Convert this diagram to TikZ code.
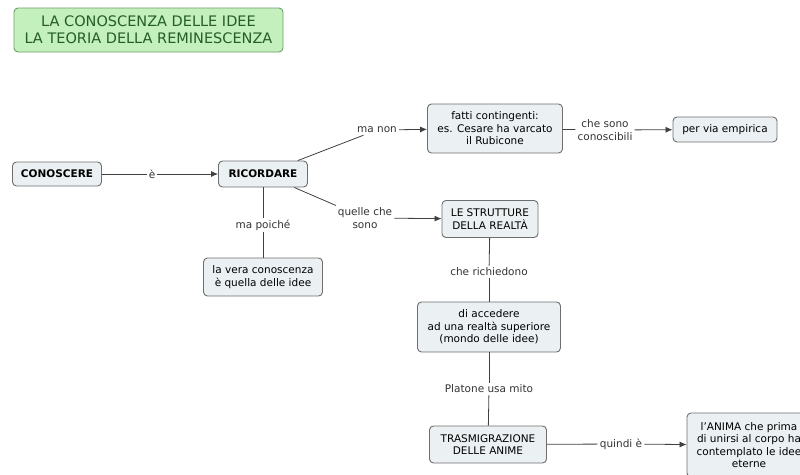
\documentclass[tikz,border=0pt]{standalone}
\usepackage{fontspec}
\setmainfont{DejaVu Sans}
\usetikzlibrary{arrows.meta}

\definecolor{boxfill}{HTML}{EBF0F3}
\definecolor{boxline}{HTML}{6E6E6E}
\definecolor{titlefill}{HTML}{C4F0BE}
\definecolor{titleline}{HTML}{6A9E6A}
\definecolor{titletext}{HTML}{245E24}

\tikzset{
  concept/.style={draw=boxline, fill=boxfill, rounded corners=4pt, line width=0.9pt,
    align=center, inner xsep=6pt, inner ysep=4pt, font=\fontsize{10.5}{12.5}\selectfont},
  bold/.style={concept, font=\fontsize{10.5}{12.5}\selectfont\bfseries},
  link/.style={align=center, inner sep=2pt, text=black!80, font=\fontsize{10.5}{12.5}\selectfont},
  conn/.style={draw=black!75, line width=0.8pt},
  arr/.style={conn, -{Latex[length=7pt,width=6pt]}}
}

\begin{document}
\begin{tikzpicture}[x=1pt,y=-1pt]
  \useasboundingbox (0,0) rectangle (800,474);
  \clip (0,0) rectangle (800,474);

  \node[draw=titleline, fill=titlefill, rounded corners=4pt, line width=0.9pt, text=titletext,
    align=center, minimum width=269pt, minimum height=44pt, inner ysep=4pt,
    font=\fontsize{14.5}{17}\selectfont]
    (title) at (148.5,30) {LA CONOSCENZA DELLE IDEE\\LA TEORIA DELLA REMINESCENZA};

  \node[bold, minimum width=89pt, minimum height=24pt] (conoscere) at (57,174) {CONOSCERE};
  \node[bold, minimum width=89pt, minimum height=26pt] (ricordare) at (263,174) {RICORDARE};
  \node[concept, minimum width=135pt, minimum height=49pt] (fatti) at (495,128.5)
    {fatti contingenti:\\es. Cesare ha varcato\\il Rubicone};
  \node[concept, minimum width=104pt, minimum height=25pt] (empirica) at (725,129.5) {per via empirica};
  \node[concept, minimum width=96pt, minimum height=37pt] (strutture) at (490,219)
    {LE STRUTTURE\\DELLA REALTÀ};
  \node[concept, minimum width=119pt, minimum height=38pt] (vera) at (263,277)
    {la vera conoscenza\\è quella delle idee};
  \node[concept, minimum width=143pt, minimum height=50pt] (accedere) at (489,327)
    {di accedere\\ad una realtà superiore\\(mondo delle idee)};
  \node[concept, minimum width=117pt, minimum height=37pt] (trasmig) at (488,444.5)
    {TRASMIGRAZIONE\\DELLE ANIME};
  \node[concept, minimum width=124pt, minimum height=64pt] (anima) at (749,445)
    {l'ANIMA che prima\\di unirsi al corpo ha\\contemplato le idee\\eterne};

  % link labels
  \node[link] (e) at (152,174) {è};
  \node[link] (manon) at (377,130) {ma non};
  \node[link] (chesono) at (605,130) {che sono\\conoscibili};
  \node[link] (quelle) at (365,218) {quelle che\\sono};
  \node[link] (poiche) at (263,225) {ma poiché};
  \node[link] (richiedono) at (489,272) {che richiedono};
  \node[link] (platone) at (489,389) {Platone usa mito};
  \node[link] (quindi) at (621,444) {quindi è};

  \draw[conn] (conoscere) -- (e);
  \draw[arr] (e) -- (ricordare);
  \draw[conn] (ricordare) -- (manon);
  \draw[arr] (manon) -- (fatti);
  \draw[conn] (fatti) -- (chesono);
  \draw[arr] (chesono) -- (empirica);
  \draw[conn] (ricordare) -- (quelle);
  \draw[arr] (quelle) -- (strutture);
  \draw[conn] (ricordare) -- (poiche);
  \draw[conn] (poiche) -- (vera);
  \draw[conn] (strutture) -- (richiedono);
  \draw[conn] (richiedono) -- (accedere);
  \draw[conn] (accedere) -- (platone);
  \draw[conn] (platone) -- (trasmig);
  \draw[conn] (trasmig) -- (quindi);
  \draw[arr] (quindi) -- (anima);
\end{tikzpicture}
\end{document}
